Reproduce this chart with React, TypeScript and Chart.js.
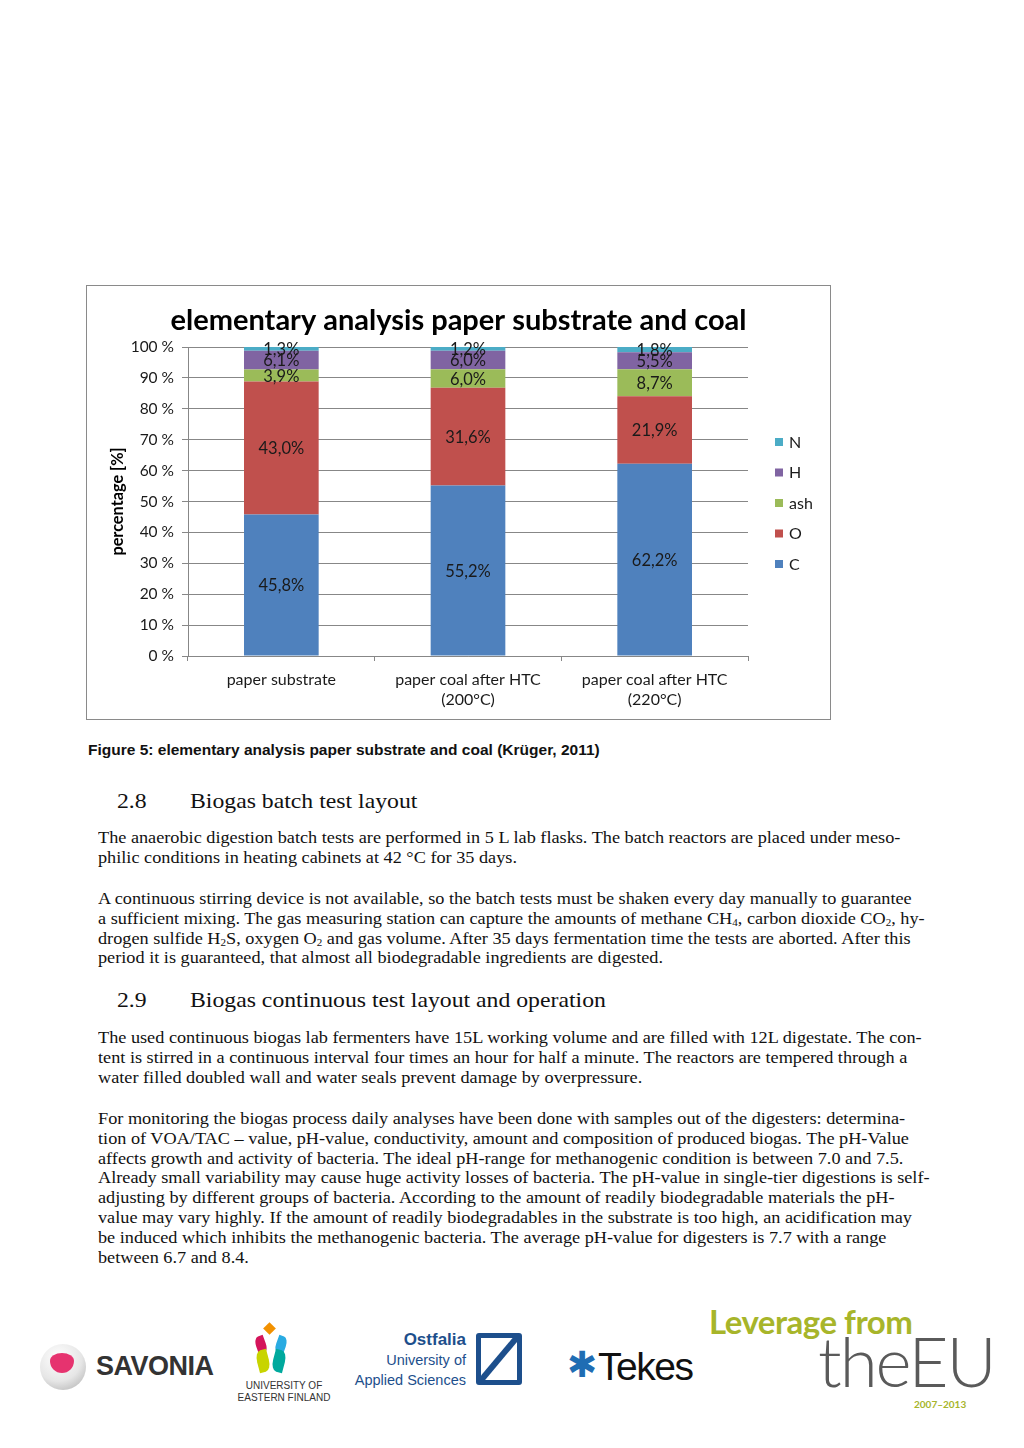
import React, { useEffect, useRef } from "react";
import { Chart, registerables } from "chart.js";

Chart.register(...registerables);

// ---------- data ----------
const categories: string[][] = [
  ["paper substrate"],
  ["paper coal after HTC", "(200°C)"],
  ["paper coal after HTC", "(220°C)"],
];
const seriesLabels = ["C", "O", "ash", "H", "N"];
const cValues = [45.8, 55.2, 62.2];
const oValues = [43.0, 31.6, 21.9];
const ashValues = [3.9, 6.0, 8.7];
const hValues = [6.1, 6.0, 5.5];
const nValues = [1.3, 1.2, 1.8];
const seriesColors = ["#4F81BD", "#C0504D", "#9BBB59", "#8064A2", "#4BACC6"];
const yTickValues = [0, 10, 20, 30, 40, 50, 60, 70, 80, 90, 100];
const chartTitle = "elementary analysis paper substrate and coal";
const yAxisTitle = "percentage [%]";

const FONT = "Lato";
const TEXT = "#1a1a1a";
const GRID = "#878787";

const segmentLabelPlugin = {
  id: "segmentLabels",
  afterDatasetsDraw(chart: any) {
    const ctx = chart.ctx;
    ctx.save();
    ctx.font = `16.5px ${FONT}`;
    ctx.fillStyle = TEXT;
    ctx.textAlign = "center";
    ctx.textBaseline = "middle";
    chart.data.datasets.forEach((ds: any, di: number) => {
      const meta = chart.getDatasetMeta(di);
      meta.data.forEach((el: any, i: number) => {
        const p = el.getProps(["x", "y", "base"], true);
        const v = ds.data[i] as number;
        ctx.fillText(v.toFixed(1).replace(".", ",") + "%", p.x, (p.y + p.base) / 2 + 1);
      });
    });
    ctx.restore();
  },
};

const sideLegendPlugin = {
  id: "sideLegend",
  afterDraw(chart: any) {
    const { ctx, chartArea } = chart;
    const items = chart.data.datasets
      .map((d: any) => ({ label: d.label, color: d.backgroundColor }))
      .reverse();
    const spacing = 30.5;
    const cy = (chartArea.top + chartArea.bottom) / 2 + 1.5;
    const x0 = chartArea.right + 27;
    ctx.save();
    items.forEach((it: any, k: number) => {
      const y = cy + (k - (items.length - 1) / 2) * spacing;
      ctx.fillStyle = it.color;
      ctx.fillRect(x0, y - 4, 8, 8);
      ctx.fillStyle = TEXT;
      ctx.font = `16px ${FONT}`;
      ctx.textBaseline = "middle";
      ctx.textAlign = "left";
      ctx.fillText(it.label, x0 + 14, y + 0.5);
    });
    ctx.restore();
  },
};

function ElementaryChart() {
  const ref = useRef<HTMLCanvasElement | null>(null);
  useEffect(() => {
    if (!ref.current) return;
    const valueSets = [cValues, oValues, ashValues, hValues, nValues];
    const chart = new Chart(ref.current, {
      type: "bar",
      data: {
        labels: categories as any,
        datasets: seriesLabels.map((label, i) => ({
          label,
          data: valueSets[i],
          backgroundColor: seriesColors[i],
          borderWidth: 0,
          barPercentage: 0.4,
          categoryPercentage: 1.0,
          yAxisID: "y",
        })),
      },
      options: {
        animation: false,
        responsive: false,
        maintainAspectRatio: false,
        layout: { padding: 0 },
        plugins: {
          legend: { display: false },
          tooltip: { enabled: false },
          title: {
            display: true,
            text: chartTitle,
            color: "#000",
            font: { family: FONT, size: 29, weight: "bold", lineHeight: 1.2 },
            padding: { top: 17, bottom: 9.2 },
          },
        },
        scales: {
          x: {
            stacked: true,
            grid: {
              display: true,
              drawOnChartArea: false,
              drawTicks: true,
              tickLength: 5,
              color: GRID,
              offset: true,
            },
            border: { display: true, color: GRID, width: 1 },
            ticks: {
              color: TEXT,
              font: { family: FONT, size: 16, lineHeight: 1.3 },
              padding: 8,
              maxRotation: 0,
              autoSkip: false,
            },
            afterFit: (s: any) => {
              s.height = 63;
            },
          },
          y: {
            stacked: true,
            min: 0,
            max: 100,
            afterBuildTicks: (s: any) => {
              s.ticks = yTickValues.map((v) => ({ value: v }));
            },
            ticks: {
              color: TEXT,
              font: { family: FONT, size: 15.5 },
              padding: 8,
              callback: (v: any) => `${v} %`,
            },
            grid: { color: GRID, lineWidth: 1, tickLength: 6 },
            border: { display: true, color: GRID, width: 1 },
            title: {
              display: true,
              text: yAxisTitle,
              color: "#000",
              font: { family: FONT, size: 16.3, weight: "bold", lineHeight: 1.2 },
              padding: { top: 21, bottom: 0 },
            },
            afterFit: (s: any) => {
              s.width = 101;
            },
          },
          yRight: {
            type: "linear",
            position: "right",
            display: true,
            grid: { display: false },
            border: { display: false },
            ticks: { display: false },
            afterFit: (s: any) => {
              s.width = 82;
            },
          },
        },
      } as any,
      plugins: [segmentLabelPlugin, sideLegendPlugin],
    });
    return () => chart.destroy();
  }, []);
  return (
    <canvas
      ref={ref}
      width={743}
      height={433}
      style={{ position: "absolute", left: 0, top: 0, width: 743, height: 433, display: "block" }}
    />
  );
}

const bodyFont = "'Liberation Serif', 'DejaVu Serif', serif";

function Lines({ top, lines }: { top: number; lines: React.ReactNode[] }) {
  return (
    <>
      {lines.map((l, i) => (
        <div
          key={i}
          style={{
            position: "absolute",
            left: 98,
            top: top + i * 19.8,
            whiteSpace: "nowrap",
            fontFamily: bodyFont,
            fontSize: 16.5,
            lineHeight: "20px",
            color: "#111",
            transform: "scaleX(1.105)",
            transformOrigin: "0 0",
          }}
        >
          {l}
        </div>
      ))}
    </>
  );
}

const sub = (t: string) => <sub style={{ fontSize: 10, verticalAlign: "-2px", lineHeight: 0 }}>{t}</sub>;

function Heading({ top, num, text }: { top: number; num: string; text: string }) {
  const st: React.CSSProperties = {
    position: "absolute",
    top,
    whiteSpace: "nowrap",
    fontFamily: bodyFont,
    fontSize: 21,
    lineHeight: "26px",
    color: "#111",
    transform: "scaleX(1.13)",
    transformOrigin: "0 0",
  };
  return (
    <>
      <div style={{ ...st, left: 117 }}>{num}</div>
      <div style={{ ...st, left: 190 }}>{text}</div>
    </>
  );
}

function Logos() {
  return (
    <>
      {/* Savonia */}
      <div
        style={{
          position: "absolute",
          left: 40,
          top: 1344,
          width: 46,
          height: 46,
          borderRadius: "50%",
          background: "radial-gradient(circle at 40% 30%, #ffffff 0%, #e6e6e6 55%, #a9a9a9 100%)",
        }}
      >
        <div
          style={{
            position: "absolute",
            left: 10,
            top: 9,
            width: 24,
            height: 20,
            borderRadius: "50% 50% 50% 50% / 40% 40% 60% 60%",
            background: "#e6336f",
          }}
        />
      </div>
      <div
        style={{
          position: "absolute",
          left: 96,
          top: 1351,
          fontFamily: "'Liberation Sans', Arial, sans-serif",
          fontWeight: "bold",
          fontSize: 27,
          color: "#333",
          letterSpacing: -0.5,
        }}
      >
        SAVONIA
      </div>
      {/* UEF */}
      <div style={{ position: "absolute", left: 265, top: 1324, width: 9, height: 9, background: "#f29100", transform: "rotate(45deg)" }} />
      <div style={{ position: "absolute", left: 256, top: 1336, width: 10, height: 18, background: "#d4145a", borderRadius: "50% 0", transform: "rotate(-20deg)" }} />
      <div style={{ position: "absolute", left: 276, top: 1336, width: 10, height: 18, background: "#29abe2", borderRadius: "0 50%", transform: "rotate(20deg)" }} />
      <div style={{ position: "absolute", left: 257, top: 1350, width: 12, height: 22, background: "#c8d400", borderRadius: "50% 0", transform: "rotate(-15deg)" }} />
      <div style={{ position: "absolute", left: 273, top: 1350, width: 12, height: 22, background: "#00a99d", borderRadius: "0 50%", transform: "rotate(15deg)" }} />
      <div
        style={{
          position: "absolute",
          left: 235,
          top: 1380,
          width: 98,
          textAlign: "center",
          fontFamily: "'Liberation Sans Narrow', 'Liberation Sans', sans-serif",
          fontSize: 10,
          lineHeight: "12px",
          color: "#333",
        }}
      >
        UNIVERSITY OF
        <br />
        EASTERN FINLAND
      </div>
      {/* Ostfalia */}
      <div
        style={{
          position: "absolute",
          left: 340,
          top: 1330,
          width: 126,
          textAlign: "right",
          fontFamily: "'Liberation Sans Narrow', 'Liberation Sans', sans-serif",
          fontSize: 14.5,
          lineHeight: "20px",
          color: "#1d4f8c",
        }}
      >
        <b style={{ fontSize: 17 }}>Ostfalia</b>
        <br />
        University of
        <br />
        Applied Sciences
      </div>
      <div
        style={{
          position: "absolute",
          left: 476,
          top: 1333,
          width: 46,
          height: 52,
          boxSizing: "border-box",
          border: "5px solid #1d4f8c",
          borderRadius: 3,
          overflow: "hidden",
        }}
      >
        <div style={{ position: "absolute", left: 14, top: -8, width: 6, height: 60, background: "#1d4f8c", transform: "rotate(40deg)" }} />
      </div>
      {/* Tekes */}
      <div style={{ position: "absolute", left: 567, top: 1345, fontFamily: "'DejaVu Sans', sans-serif", fontSize: 36, lineHeight: "40px", color: "#1f6db3" }}>
        ✱
      </div>
      <div style={{ position: "absolute", left: 598, top: 1345, fontFamily: "'Liberation Sans', Arial, sans-serif", fontSize: 39, lineHeight: "44px", color: "#111", letterSpacing: -1.5 }}>
        Tekes
      </div>
      {/* Leverage from the EU */}
      <div style={{ position: "absolute", left: 709, top: 1302, fontFamily: "Lato, sans-serif", fontWeight: "bold", fontSize: 33, lineHeight: "38px", color: "#a7b52a", letterSpacing: -0.5 }}>
        Leverage from
      </div>
      <div style={{ position: "absolute", left: 818, top: 1323, fontFamily: "Lato, sans-serif", fontWeight: 300, fontSize: 69, lineHeight: "76px", color: "#5a5a5a", letterSpacing: -2 }}>
        theEU
      </div>
      <div style={{ position: "absolute", left: 914, top: 1397, fontFamily: "Lato, sans-serif", fontWeight: "bold", fontSize: 10, lineHeight: "14px", color: "#a7b52a" }}>
        2007–2013
      </div>
    </>
  );
}

export default function App() {
  return (
    <div style={{ position: "absolute", left: 0, top: 0, width: 1024, height: 1448, background: "#fff", overflow: "hidden" }}>
      <div
        style={{
          position: "absolute",
          left: 86,
          top: 285,
          width: 745,
          height: 435,
          boxSizing: "border-box",
          border: "1px solid #8a8a8a",
          background: "#fff",
        }}
      >
        <ElementaryChart />
      </div>
      <div
        style={{
          position: "absolute",
          left: 88,
          top: 741,
          whiteSpace: "nowrap",
          fontFamily: "'Liberation Sans', Arial, sans-serif",
          fontWeight: "bold",
          fontSize: 15.5,
          lineHeight: "18px",
          color: "#111",
        }}
      >
        Figure 5: elementary analysis paper substrate and coal (Krüger, 2011)
      </div>

      <Heading top={788} num="2.8" text="Biogas batch test layout" />
      <Lines
        top={828}
        lines={[
          "The anaerobic digestion batch tests are performed in 5 L lab flasks. The batch reactors are placed under meso-",
          "philic conditions in heating cabinets at 42 °C for 35 days.",
        ]}
      />
      <Lines
        top={889}
        lines={[
          "A continuous stirring device is not available, so the batch tests must be shaken every day manually to guarantee",
          <>a sufficient mixing. The gas measuring station can capture the amounts of methane CH{sub("4")}, carbon dioxide CO{sub("2")}, hy-</>,
          <>drogen sulfide H{sub("2")}S, oxygen O{sub("2")} and gas volume. After 35 days fermentation time the tests are aborted. After this</>,
          "period it is guaranteed, that almost all biodegradable ingredients are digested.",
        ]}
      />
      <Heading top={987} num="2.9" text="Biogas continuous test layout and operation" />
      <Lines
        top={1028}
        lines={[
          "The used continuous biogas lab fermenters have 15L working volume and are filled with 12L digestate. The con-",
          "tent is stirred in a continuous interval four times an hour for half a minute. The reactors are tempered through a",
          "water filled doubled wall and water seals prevent damage by overpressure.",
        ]}
      />
      <Lines
        top={1109}
        lines={[
          "For monitoring the biogas process daily analyses have been done with samples out of the digesters: determina-",
          "tion of VOA/TAC – value, pH-value, conductivity, amount and composition of produced biogas. The pH-Value",
          "affects growth and activity of bacteria. The ideal pH-range for methanogenic condition is between 7.0 and 7.5.",
          "Already small variability may cause huge activity losses of bacteria. The pH-value in single-tier digestions is self-",
          "adjusting by different groups of bacteria. According to the amount of readily biodegradable materials the pH-",
          "value may vary highly. If the amount of readily biodegradables in the substrate is too high, an acidification may",
          "be induced which inhibits the methanogenic bacteria. The average pH-value for digesters is 7.7 with a range",
          "between 6.7 and 8.4.",
        ]}
      />
      <Logos />
    </div>
  );
}
